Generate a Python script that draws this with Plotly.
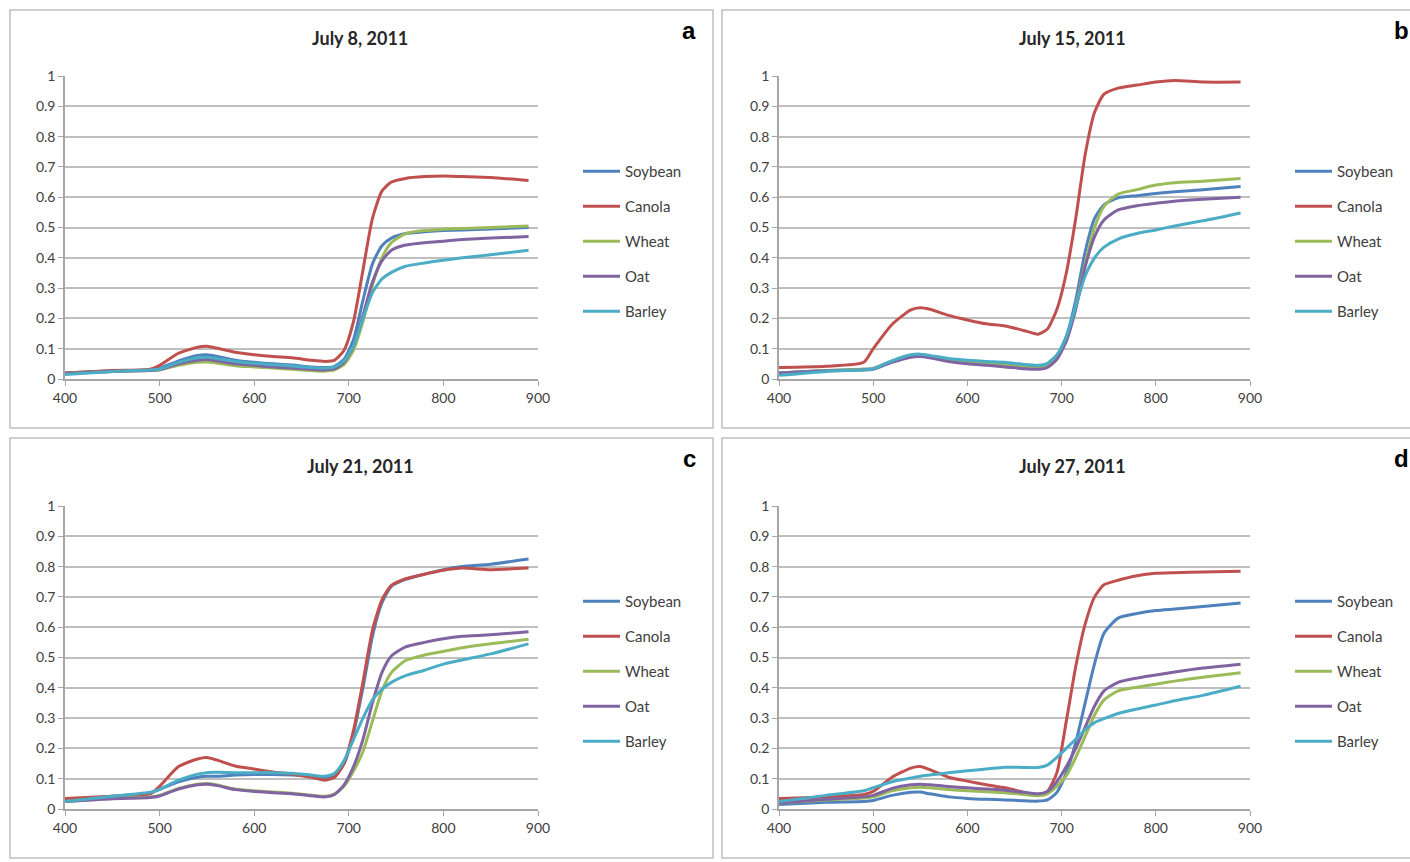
import plotly.graph_objects as go

# wavelength (nm)
wavelength = [400, 450, 490, 500, 520, 540, 550, 560, 580, 600, 620, 640, 660, 675, 685,
              695, 705, 715, 725, 735, 745, 760, 780, 800, 820, 850, 890]

crops = ['Soybean', 'Canola', 'Wheat', 'Oat', 'Barley']
dates = ['July 8, 2011', 'July 15, 2011', 'July 21, 2011', 'July 27, 2011']
letters = ['a', 'b', 'c', 'd']

# July 8
soybean_a = [.020, .027, .030, .035, .060, .078, .080, .075, .062, .055, .050, .046, .040, .038, .042,
             .065, .130, .260, .380, .440, .465, .480, .486, .490, .492, .495, .500]
canola_a = [.020, .028, .032, .045, .085, .105, .108, .102, .088, .080, .074, .070, .062, .058, .062,
            .095, .190, .360, .530, .620, .650, .662, .668, .670, .668, .665, .655]
wheat_a = [.018, .025, .028, .030, .045, .055, .056, .053, .044, .040, .036, .032, .028, .026, .030,
           .048, .095, .190, .310, .400, .450, .480, .490, .494, .497, .500, .505]
oat_a = [.018, .025, .028, .031, .050, .062, .064, .060, .050, .045, .040, .036, .032, .030, .034,
         .055, .110, .210, .320, .390, .425, .442, .450, .455, .460, .465, .470]
barley_a = [.015, .025, .030, .033, .055, .070, .072, .068, .058, .052, .047, .043, .038, .036, .040,
            .060, .110, .200, .285, .330, .352, .372, .383, .392, .400, .410, .425]

# July 15
soybean_b = [.020, .028, .032, .035, .060, .078, .080, .076, .064, .056, .052, .048, .040, .038, .045,
             .075, .140, .260, .420, .530, .575, .598, .605, .612, .618, .625, .635]
canola_b = [.038, .042, .055, .100, .180, .228, .235, .230, .210, .195, .182, .175, .160, .148, .165,
            .230, .350, .530, .740, .880, .940, .960, .970, .980, .985, .980, .980]
wheat_b = [.020, .028, .032, .034, .058, .076, .078, .074, .062, .055, .050, .045, .038, .036, .042,
           .070, .130, .240, .380, .500, .570, .610, .625, .640, .648, .653, .662]
oat_b = [.020, .027, .030, .032, .055, .072, .074, .070, .058, .050, .045, .040, .034, .032, .038,
         .065, .125, .230, .370, .470, .525, .558, .572, .580, .587, .593, .600]
barley_b = [.012, .025, .030, .033, .060, .080, .082, .078, .068, .062, .058, .055, .048, .045, .052,
            .080, .140, .240, .340, .400, .435, .462, .480, .492, .505, .522, .548]

# July 21
soybean_c = [.030, .042, .052, .065, .090, .105, .108, .108, .112, .114, .114, .112, .108, .103, .112,
             .150, .250, .400, .570, .680, .735, .758, .775, .790, .800, .808, .825]
canola_c = [.035, .042, .050, .075, .140, .165, .170, .162, .142, .132, .122, .115, .105, .095, .105,
            .150, .260, .420, .590, .690, .738, .760, .775, .788, .795, .790, .795]
wheat_c = [.025, .035, .040, .045, .068, .082, .084, .080, .066, .060, .056, .052, .046, .042, .050,
           .075, .125, .190, .290, .390, .450, .490, .508, .520, .532, .545, .560]
oat_c = [.025, .034, .038, .043, .066, .080, .082, .078, .064, .058, .054, .050, .044, .040, .048,
         .080, .140, .230, .350, .450, .505, .535, .550, .562, .570, .575, .585]
barley_c = [.025, .042, .055, .065, .095, .115, .120, .121, .120, .120, .120, .118, .112, .108, .118,
            .160, .230, .300, .360, .395, .418, .440, .458, .478, .492, .512, .545]

# July 27
soybean_d = [.015, .022, .025, .028, .045, .055, .056, .050, .040, .035, .032, .030, .027, .026, .030,
             .055, .120, .220, .350, .480, .580, .630, .645, .655, .660, .668, .680]
canola_d = [.035, .040, .048, .058, .105, .135, .140, .130, .105, .092, .080, .070, .055, .045, .058,
            .120, .290, .470, .610, .700, .740, .755, .770, .778, .780, .782, .785]
wheat_d = [.020, .030, .036, .040, .060, .070, .072, .070, .064, .060, .057, .054, .048, .044, .050,
           .075, .110, .170, .240, .310, .360, .390, .402, .412, .422, .435, .450]
oat_d = [.020, .032, .040, .045, .068, .080, .082, .080, .074, .070, .066, .062, .055, .050, .058,
         .090, .140, .200, .270, .340, .390, .418, .432, .442, .452, .465, .478]
barley_d = [.025, .045, .060, .070, .090, .102, .108, .112, .120, .126, .132, .138, .137, .137, .145,
            .170, .200, .230, .262, .285, .298, .315, .330, .343, .357, .375, .405]

panels = [
    [soybean_a, canola_a, wheat_a, oat_a, barley_a],
    [soybean_b, canola_b, wheat_b, oat_b, barley_b],
    [soybean_c, canola_c, wheat_c, oat_c, barley_c],
    [soybean_d, canola_d, wheat_d, oat_d, barley_d],
]

colors = ['#4F81BD', '#C0504D', '#9BBB59', '#8064A2', '#4BACC6']

W, H = 1410, 862
FONT = 'Lato, Carlito, Calibri, sans-serif'


def px(x):
    return x / W


def py(y):
    return 1 - y / H


# plot areas (left, right, top, bottom) in pixels
areas = [(65, 538, 76, 379), (779, 1250, 76, 379),
         (65, 538, 506, 809), (779, 1250, 506, 809)]
boxes = [(10, 713, 10, 428), (722, 1425, 10, 428),
         (10, 713, 438, 858), (722, 1425, 438, 858)]
legend_pos = [(578, 155), (1290, 155), (578, 585), (1290, 585)]

fig = go.Figure()
layout = {}
shapes = []
annotations = []

for i, series in enumerate(panels):
    n = '' if i == 0 else str(i + 1)
    leg = 'legend' + n
    for crop, vals, col in zip(crops, series, colors):
        fig.add_trace(go.Scatter(
            x=wavelength, y=vals, name=crop, mode='lines',
            line=dict(color=col, width=3, shape='spline', smoothing=0.6),
            xaxis='x' + n, yaxis='y' + n, legend=leg,
            legendgroup=f'{crop}{i}',
        ))
    l, r, t, b = areas[i]
    layout['xaxis' + n] = dict(
        domain=[px(l), px(r)], anchor='y' + n, range=[400, 900], dtick=100,
        showgrid=False, showline=True, linecolor='#A6A6A6', linewidth=1.5,
        ticks='outside', ticklen=5, tickcolor='#A6A6A6', zeroline=False,
        tickfont=dict(family=FONT, size=14, color='#404040'),
    )
    layout['yaxis' + n] = dict(
        domain=[py(b), py(t)], anchor='x' + n, range=[0, 1], dtick=0.1,
        showgrid=True, gridcolor='#BFBFBF', gridwidth=2,
        showline=True, linecolor='#A6A6A6', linewidth=1.5,
        ticks='outside', ticklen=5, tickcolor='#A6A6A6', zeroline=False,
        tickfont=dict(family=FONT, size=14, color='#404040'),
    )
    lx, ly = legend_pos[i]
    layout[leg] = dict(
        x=px(lx), y=py(ly), xanchor='left', yanchor='top',
        font=dict(family=FONT, size=15, color='#404040'),
        bgcolor='rgba(0,0,0,0)', itemwidth=37, tracegroupgap=12.5,
    )
    bl, br, bt, bb = boxes[i]
    shapes.append(dict(type='rect', xref='paper', yref='paper',
                       x0=px(bl), x1=px(br), y0=py(bb), y1=py(bt),
                       line=dict(color='#BFBFBF', width=1.5)))
    annotations.append(dict(
        text=f'<b>{dates[i]}</b>', xref='paper', yref='paper',
        x=px(bl + 350), y=py(bt + 28), xanchor='center', yanchor='middle',
        showarrow=False, font=dict(family=FONT, size=18, color='#262626'),
    ))
    annotations.append(dict(
        text=f'<b>{letters[i]}</b>', xref='paper', yref='paper',
        x=px(bl + 679), y=py(bt + 20), xanchor='center', yanchor='middle',
        showarrow=False, font=dict(family='Arial, sans-serif', size=24, color='#000000'),
    ))

fig.update_layout(
    width=W, height=H,
    margin=dict(l=0, r=0, t=0, b=0, autoexpand=False),
    paper_bgcolor='white', plot_bgcolor='white',
    shapes=shapes, annotations=annotations,
    **layout,
)

fig.write_html('out.html', config={'displayModeBar': False},
               post_script="document.body.style.margin='0';")
